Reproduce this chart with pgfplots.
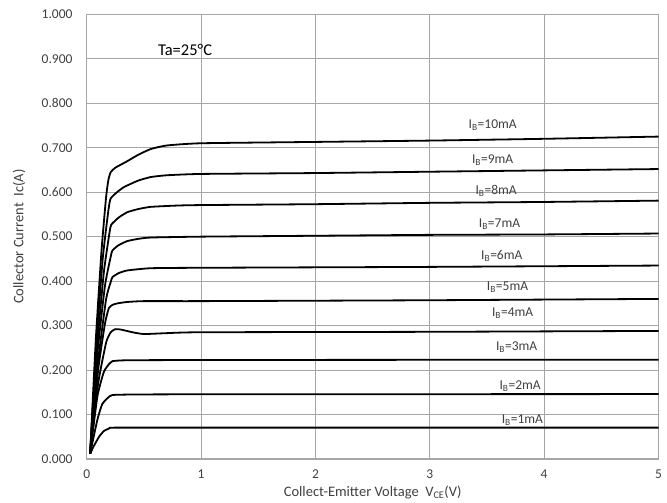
\documentclass[border=0pt]{standalone}
\usepackage{pgfplots}
\pgfplotsset{compat=1.18}
\usepackage{fontspec}
\setmainfont{Carlito}
\definecolor{txt}{HTML}{404040}
\definecolor{gridc}{HTML}{A6A6A6}
\pgfplotsset{curve/.style={black, solid, mark=none, line width=1.8pt, smooth, tension=0.3, line join=round}}
\begin{document}
\begin{tikzpicture}
\begin{axis}[
  name=ax,
  scale only axis,
  width=571.8pt, height=444.7pt,
  xmin=0, xmax=5, ymin=0, ymax=1,
  xtick={0,1,2,3,4,5},
  ytick={0,0.1,0.2,0.3,0.4,0.5,0.6,0.7,0.8,0.9,1},
  grid=major,
  major grid style={gridc, line width=1.1pt},
  axis line style={gridc, line width=1.1pt},
  major tick length=0pt,
  /pgf/number format/assume math mode=true,
  tick label style={font=\fontsize{13.5}{15}\selectfont, text=txt, inner sep=0pt},
  yticklabel style={xshift=-14pt},
  xticklabel style={yshift=-11pt},
  yticklabel={\pgfmathprintnumber[fixed,fixed zerofill,precision=3]{\tick}},
  xticklabel={\pgfmathprintnumber{\tick}},
  every axis y label/.style={at={(axis description cs:-0.1184,0.5)},rotate=90,anchor=center},
  every axis x label/.style={at={(axis description cs:0.5,-0.0742)},anchor=center},
  label style={font=\fontsize{14.5}{16}\selectfont, text=txt},
  xlabel={Collect-Emitter Voltage\ \ V\textsubscript{CE}(V)},
  ylabel={Collector Current\ \ Ic(A)},
  clip=false,
]
% IB=10mA
\addplot[curve] coordinates {(0.03,0.012)(0.08,0.27)(0.13,0.47)(0.17,0.59)(0.19,0.628)(0.21,0.645)(0.25,0.655)(0.35,0.669)(0.45,0.684)(0.56,0.697)(0.7,0.705)(1,0.710)(2,0.713)(3,0.716)(4,0.720)(5,0.725)};
% IB=9mA
\addplot[curve] coordinates {(0.03,0.012)(0.085,0.26)(0.14,0.45)(0.19,0.56)(0.21,0.586)(0.27,0.601)(0.33,0.612)(0.45,0.626)(0.56,0.634)(0.7,0.638)(1,0.641)(2,0.643)(3,0.646)(4,0.649)(5,0.652)};
% IB=8mA
\addplot[curve] coordinates {(0.03,0.012)(0.09,0.25)(0.15,0.42)(0.2,0.51)(0.215,0.527)(0.28,0.543)(0.355,0.555)(0.45,0.562)(0.56,0.567)(0.8,0.570)(1,0.571)(2,0.573)(3,0.576)(4,0.578)(5,0.581)};
% IB=7mA
\addplot[curve] coordinates {(0.03,0.012)(0.095,0.24)(0.16,0.39)(0.21,0.455)(0.225,0.469)(0.28,0.481)(0.355,0.490)(0.45,0.495)(0.56,0.498)(1,0.500)(2,0.502)(3,0.504)(4,0.505)(5,0.507)};
% IB=6mA
\addplot[curve] coordinates {(0.03,0.012)(0.1,0.22)(0.17,0.36)(0.21,0.398)(0.225,0.409)(0.28,0.418)(0.355,0.424)(0.56,0.429)(1,0.430)(3,0.432)(5,0.435)};
% IB=5mA
\addplot[curve] coordinates {(0.03,0.012)(0.1,0.2)(0.16,0.305)(0.195,0.340)(0.23,0.347)(0.27,0.350)(0.35,0.353)(0.5,0.355)(1,0.355)(3,0.357)(5,0.360)};
% IB=4mA
\addplot[curve] coordinates {(0.03,0.012)(0.1,0.17)(0.17,0.262)(0.21,0.285)(0.25,0.292)(0.3,0.291)(0.4,0.285)(0.5,0.281)(0.7,0.283)(1,0.285)(3,0.286)(5,0.288)};
% IB=3mA
\addplot[curve] coordinates {(0.03,0.012)(0.093,0.14)(0.15,0.196)(0.2,0.215)(0.225,0.220)(0.35,0.222)(1,0.2226)(3,0.223)(5,0.223)};
% IB=2mA
\addplot[curve] coordinates {(0.03,0.012)(0.093,0.088)(0.137,0.124)(0.2,0.141)(0.225,0.144)(0.4,0.145)(1,0.1455)(5,0.146)};
% IB=1mA
\addplot[curve] coordinates {(0.03,0.012)(0.06,0.028)(0.108,0.05)(0.151,0.063)(0.2,0.069)(0.24,0.0705)(1,0.0705)(5,0.0705)};

\begin{scope}[every node/.style={font=\fontsize{13.5}{15}\selectfont, text=txt, inner sep=0pt, anchor=center}]
\node at (axis cs:3.55,0.751) {I\textsubscript{B}=10mA};
\node at (axis cs:3.55,0.672) {I\textsubscript{B}=9mA};
\node at (axis cs:3.58,0.603) {I\textsubscript{B}=8mA};
\node at (axis cs:3.61,0.528) {I\textsubscript{B}=7mA};
\node at (axis cs:3.63,0.457) {I\textsubscript{B}=6mA};
\node at (axis cs:3.68,0.387) {I\textsubscript{B}=5mA};
\node at (axis cs:3.725,0.328) {I\textsubscript{B}=4mA};
\node at (axis cs:3.76,0.251) {I\textsubscript{B}=3mA};
\node at (axis cs:3.79,0.163) {I\textsubscript{B}=2mA};
\node at (axis cs:3.81,0.0877) {I\textsubscript{B}=1mA};
\end{scope}
\node[font=\fontsize{16.5}{18}\selectfont, text=black, inner sep=0pt, anchor=center] at (axis cs:0.86,0.92) {Ta=25°C};
\end{axis}
\path ([shift={(-86.7pt,-43pt)}]ax.south west) rectangle ([shift={(8.5pt,14.3pt)}]ax.north east);
\end{tikzpicture}
\end{document}
